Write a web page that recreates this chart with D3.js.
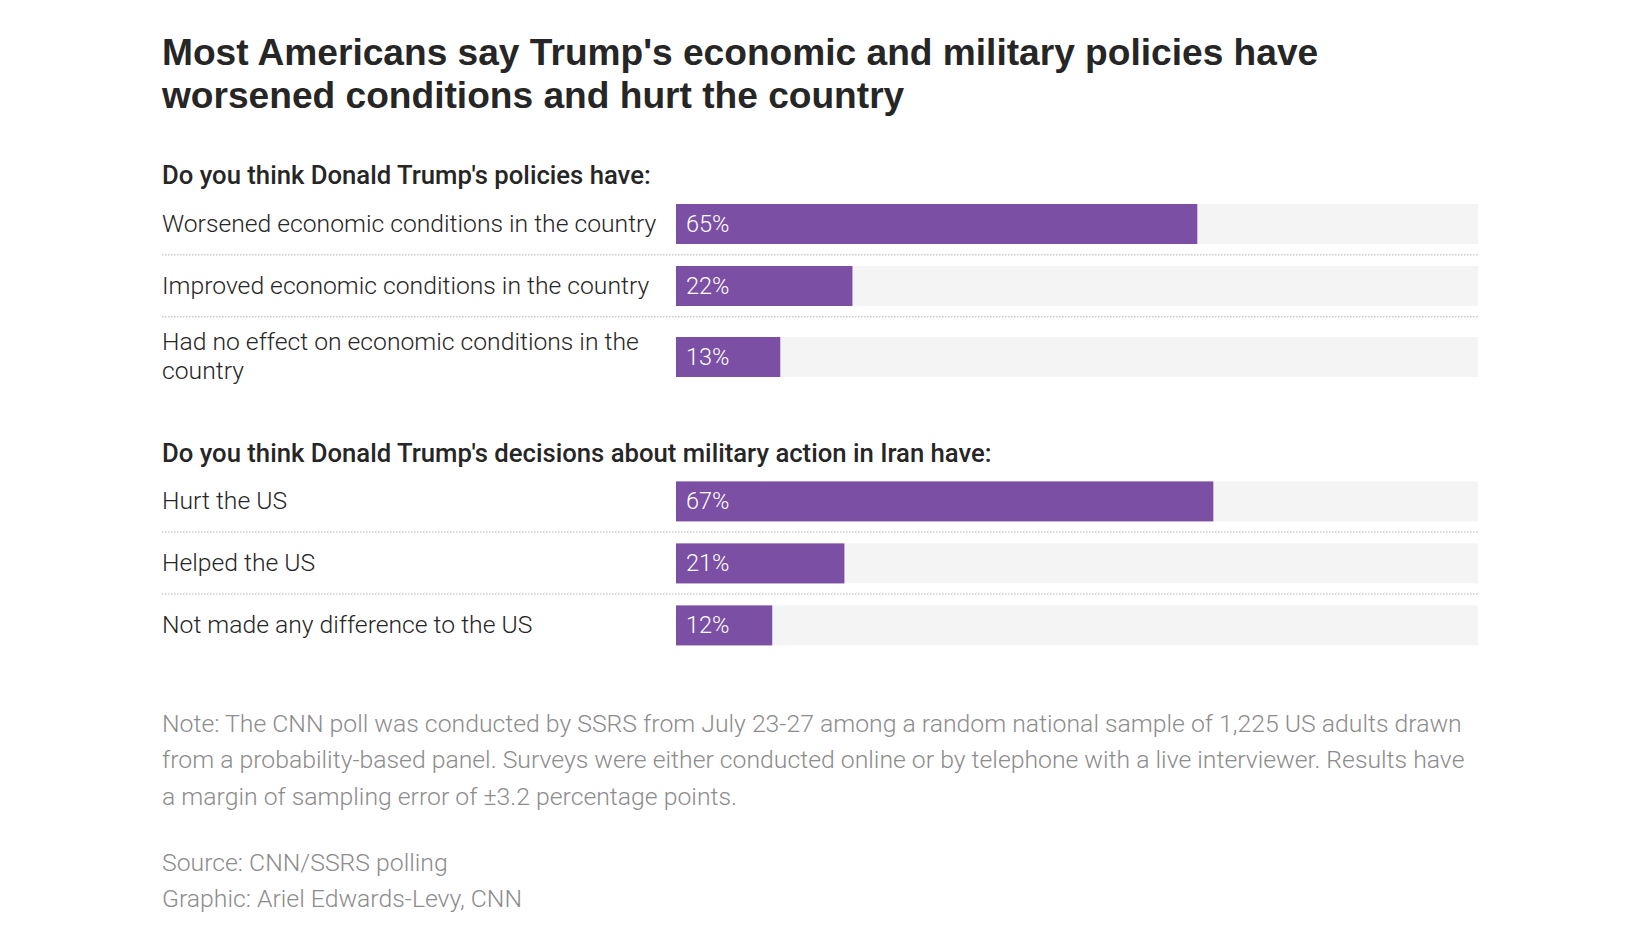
<!DOCTYPE html>
<html>
<head>
<meta charset="utf-8">
<script src="https://cdn.jsdelivr.net/npm/d3@7"></script>
<style>
  html, body { margin: 0; padding: 0; background: #ffffff; }
  svg { display: block; }
</style>
</head>
<body>
<svg id="chart" width="1626" height="933"></svg>
<script>
// ---------------- DATA ----------------
const titleLines = [
  "Most Americans say Trump's economic and military policies have",
  "worsened conditions and hurt the country"
];
const sectionHeaders = [
  "Do you think Donald Trump's policies have:",
  "Do you think Donald Trump's decisions about military action in Iran have:"
];
const econLabels = [
  "Worsened economic conditions in the country",
  "Improved economic conditions in the country",
  "Had no effect on economic conditions in the country"
];
const econValues = [65, 22, 13];
const iranLabels = [
  "Hurt the US",
  "Helped the US",
  "Not made any difference to the US"
];
const iranValues = [67, 21, 12];
const noteLines = [
  "Note: The CNN poll was conducted by SSRS from July 23-27 among a random national sample of 1,225 US adults drawn",
  "from a probability-based panel. Surveys were either conducted online or by telephone with a live interviewer. Results have",
  "a margin of sampling error of \u00b13.2 percentage points."
];
const creditLines = [
  "Source: CNN/SSRS polling",
  "Graphic: Ariel Edwards-Levy, CNN"
];

// ---------------- LAYOUT / STYLE ----------------
const svg = d3.select("#chart");
const LEFT = 162;
const x = d3.scaleLinear().domain([0, 100]).range([676, 1478]);
const BAR_H = 40, LINE_H = 29, LABEL_MAX_W = 500;
const PURPLE = "#7b4fa4", TRACK = "#f4f4f4", DARK = "#262626", GREY = "#8c8c8c";
const LIGHT_FONT = "Roboto, 'Open Sans', sans-serif";
const NOTE_LH = 36.3;

function fit(sel, target) {
  const node = sel.node();
  const w = node.getComputedTextLength();
  const fs = parseFloat(sel.attr("font-size"));
  return fs * target / w;
}

// Title
const title = svg.append("g");
title.selectAll("text").data(titleLines).join("text")
  .attr("x", LEFT).attr("y", (d, i) => 64.5 + i * 43)
  .attr("font-family", "'Liberation Sans', Arial, sans-serif")
  .attr("font-weight", 700).attr("font-size", 34).attr("fill", DARK)
  .text(d => d);
const titleFs = fit(title.select("text"), 1156.5);
title.selectAll("text").attr("font-size", titleFs);

// measure fonts for labels
const probe = svg.append("text").attr("font-family", LIGHT_FONT).attr("font-weight", 300)
  .attr("font-size", 22).text(econLabels[0]);
const labelFs = fit(probe, 494.5);
probe.remove();
const probeH = svg.append("text").attr("font-family", LIGHT_FONT).attr("font-weight", 500)
  .attr("font-size", 21).text(sectionHeaders[0]);
const headerFs = fit(probeH, 489);
probeH.remove();
const probeP = svg.append("text").attr("font-family", LIGHT_FONT).attr("font-weight", 300)
  .attr("font-size", 21).text("67%");
const pctFs = Math.min(fit(probeP, 46.5), 23.5);
probeP.remove();

function wrap(str, fs) {
  const t = svg.append("text").attr("font-family", LIGHT_FONT).attr("font-weight", 300).attr("font-size", fs);
  const words = str.split(" ");
  const lines = [];
  let cur = "";
  words.forEach(w => {
    const test = cur ? cur + " " + w : w;
    t.text(test);
    if (t.node().getComputedTextLength() > LABEL_MAX_W && cur) { lines.push(cur); cur = w; }
    else cur = test;
  });
  if (cur) lines.push(cur);
  t.remove();
  return lines;
}

const sections = [
  { header: sectionHeaders[0], labels: econLabels, values: econValues },
  { header: sectionHeaders[1], labels: iranLabels, values: iranValues }
];

let headerBase = 184.3;
let lastBottom = 0;
sections.forEach((sec, si) => {
  const g = svg.append("g");
  g.append("text").attr("x", LEFT).attr("y", headerBase)
    .attr("font-family", LIGHT_FONT).attr("font-weight", 500)
    .attr("font-size", headerFs).attr("fill", DARK).text(sec.header);
  let rowTop = headerBase + 19.7;
  sec.labels.forEach((lab, ri) => {
    const lines = wrap(lab, labelFs);
    const contentH = Math.max(BAR_H, lines.length * LINE_H);
    const center = rowTop + contentH / 2;
    const barY = center - BAR_H / 2;
    g.append("rect").attr("x", x(0)).attr("y", barY)
      .attr("width", x(100) - x(0)).attr("height", BAR_H).attr("fill", TRACK);
    g.append("rect").attr("x", x(0)).attr("y", barY)
      .attr("width", x(sec.values[ri]) - x(0)).attr("height", BAR_H).attr("fill", PURPLE);
    g.append("text").attr("x", x(0) + 10).attr("y", center + 7.5)
      .attr("font-family", LIGHT_FONT).attr("font-weight", 300)
      .attr("font-size", pctFs).attr("fill", "#ffffff").text(sec.values[ri] + "%");
    const lt = g.append("text").attr("font-family", LIGHT_FONT).attr("font-weight", 300)
      .attr("font-size", labelFs).attr("fill", DARK);
    lines.forEach((ln, li) => {
      lt.append("tspan").attr("x", LEFT)
        .attr("y", center - (lines.length - 1) * LINE_H / 2 + 7.5 + li * LINE_H)
        .text(ln);
    });
    const bottom = rowTop + contentH;
    if (ri < sec.labels.length - 1) {
      const dy = bottom + 10.7;
      g.append("line").attr("x1", LEFT).attr("x2", x(100))
        .attr("y1", dy).attr("y2", dy)
        .attr("stroke", "#cccccc").attr("stroke-width", 1.5)
        .attr("stroke-dasharray", "1.5,1.5");
      rowTop = dy + 11.3;
    }
    lastBottom = bottom;
  });
  headerBase = lastBottom + 75.7;
});

// Notes
const noteG = svg.append("g");
const noteBase = lastBottom + 86.5;
noteG.selectAll("text").data(noteLines).join("text")
  .attr("x", LEFT).attr("y", (d, i) => noteBase + i * NOTE_LH)
  .attr("font-family", LIGHT_FONT).attr("font-weight", 300)
  .attr("font-size", 22).attr("fill", GREY).text(d => d);
const noteFs = fit(noteG.select("text"), 1300);
noteG.selectAll("text").attr("font-size", noteFs);

const creditG = svg.append("g");
const creditBase = noteBase + 2 * NOTE_LH + 66.5;
creditG.selectAll("text").data(creditLines).join("text")
  .attr("x", LEFT).attr("y", (d, i) => creditBase + i * NOTE_LH)
  .attr("font-family", LIGHT_FONT).attr("font-weight", 300)
  .attr("font-size", noteFs).attr("fill", GREY).text(d => d);
</script>
</body>
</html>
